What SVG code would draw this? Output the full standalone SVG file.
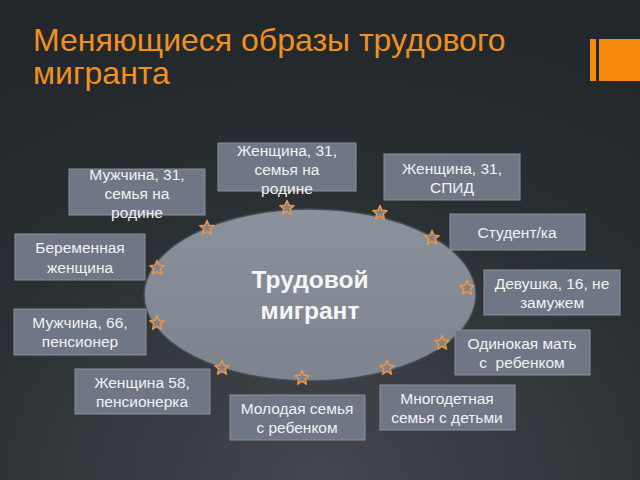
<svg xmlns="http://www.w3.org/2000/svg" width="640" height="480" viewBox="0 0 640 480">
<defs>
<radialGradient id="bg" cx="50%" cy="100%" r="95%">
<stop offset="0" stop-color="#44484e"/>
<stop offset="0.6" stop-color="#2b3035"/>
<stop offset="1" stop-color="#23282d"/>
</radialGradient>
<linearGradient id="ell" x1="0" y1="0" x2="0" y2="1">
<stop offset="0" stop-color="#8a919b"/>
<stop offset="1" stop-color="#7d848f"/>
</linearGradient>
<path id="star" d="M0,-7.5 L2,-2.7 L7.1,-2.3 L3.2,1 L4.4,6.1 L0,3.4 L-4.4,6.1 L-3.2,1 L-7.1,-2.3 L-2,-2.7 Z"/>
</defs>
<style>
.box{fill:#6f7784;stroke:#8b929c;stroke-width:1}
.t{font-family:"Liberation Sans",Arial,sans-serif;font-size:15.5px;fill:#f2f2f2;text-anchor:middle}
.star{fill:#7d848f;stroke:#eb9448;stroke-width:1.6;stroke-linejoin:round}
.title{font-family:"Liberation Sans",Arial,sans-serif;font-size:32px;fill:#f0901e}
.big{font-family:"Liberation Sans",Arial,sans-serif;font-size:24.5px;font-weight:bold;fill:#f5f5f5;text-anchor:middle}
</style>
<rect width="640" height="480" fill="url(#bg)"/>
<g id="title">
<text class="title" x="33" y="51">Меняющиеся образы трудового</text>
<text class="title" x="33" y="84">мигранта</text>
</g>
<g id="logo" fill="#f7890f">
<rect x="590" y="39" width="6" height="42"/>
<rect x="599" y="39" width="41" height="42"/>
</g>
<g id="center">
<ellipse cx="310" cy="295" rx="166" ry="86" fill="url(#ell)" stroke="#444c57" stroke-width="1.5"/>
<text class="big" x="310" y="288">Трудовой</text>
<text class="big" x="310" y="319">мигрант</text>
</g>
<g id="n1"><rect class="box" x="69" y="169" width="136" height="46"/><text class="t" x="137" y="180">Мужчина, 31,</text><text class="t" x="137" y="199">семья на</text><text class="t" x="137" y="218">родине</text></g>
<g id="n2"><rect class="box" x="218" y="143" width="138" height="48"/><text class="t" x="287" y="156">Женщина, 31,</text><text class="t" x="287" y="175">семья на</text><text class="t" x="287" y="194">родине</text></g>
<g id="n3"><rect class="box" x="384" y="154" width="136" height="46"/><text class="t" x="452" y="174">Женщина, 31,</text><text class="t" x="452" y="193">СПИД</text></g>
<g id="n4"><rect class="box" x="450" y="214" width="135" height="36"/><text class="t" x="517" y="238">Студент/ка</text></g>
<g id="n5"><rect class="box" x="15" y="234" width="130" height="46"/><text class="t" x="80" y="253">Беременная</text><text class="t" x="80" y="273">женщина</text></g>
<g id="n6"><rect class="box" x="484" y="270" width="136" height="45"/><text class="t" x="552" y="289">Девушка, 16, не</text><text class="t" x="552" y="308">замужем</text></g>
<g id="n7"><rect class="box" x="14" y="309" width="132" height="46"/><text class="t" x="80" y="328">Мужчина, 66,</text><text class="t" x="80" y="347">пенсионер</text></g>
<g id="n8"><rect class="box" x="455" y="330" width="135" height="45"/><text class="t" x="522" y="349">Одинокая мать</text><text class="t" x="522" y="368">с&#160; ребенком</text></g>
<g id="n9"><rect class="box" x="75" y="369" width="135" height="45"/><text class="t" x="142" y="388">Женщина 58,</text><text class="t" x="142" y="407">пенсионерка</text></g>
<g id="n10"><rect class="box" x="380" y="385" width="135" height="45"/><text class="t" x="447" y="404">Многодетная</text><text class="t" x="447" y="423">семья с детьми</text></g>
<g id="n11"><rect class="box" x="230" y="395" width="135" height="45"/><text class="t" x="297" y="414">Молодая семья</text><text class="t" x="297" y="433">с ребенком</text></g>
<g id="connectors">
<use href="#star" class="star" x="207" y="228"/>
<use href="#star" class="star" x="157" y="268"/>
<use href="#star" class="star" x="157" y="323"/>
<use href="#star" class="star" x="222" y="368"/>
<use href="#star" class="star" x="302" y="378"/>
<use href="#star" class="star" x="387" y="368"/>
<use href="#star" class="star" x="442" y="343"/>
<use href="#star" class="star" x="467" y="288"/>
<use href="#star" class="star" x="432" y="238"/>
<use href="#star" class="star" x="380" y="213"/>
<use href="#star" class="star" x="287" y="208"/>
</g>
</svg>
